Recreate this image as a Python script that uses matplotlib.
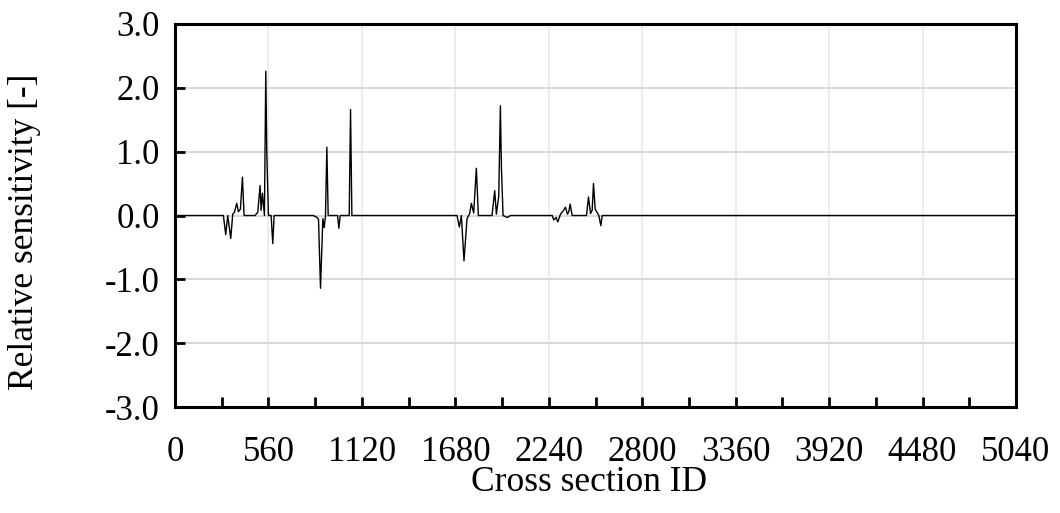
import matplotlib
matplotlib.use("Agg")
import matplotlib.pyplot as plt
from matplotlib.ticker import MultipleLocator

# cross section IDs and relative sensitivity
section_id = [0, 290, 304, 316, 334, 346, 356, 370, 380, 392, 404, 414,
              480, 496, 510, 516, 524, 536, 544, 550, 560, 576, 586, 594,
              830, 850, 860, 872, 886, 894, 902, 910, 918, 974, 982, 990,
              1044, 1052, 1060, 1690, 1704, 1716, 1732, 1750, 1766, 1776,
              1790, 1806, 1818, 1900, 1916, 1926, 1940, 1950, 1956, 1966,
              1990, 2000, 2010, 2260, 2270, 2284, 2294, 2310, 2326, 2340,
              2352, 2360, 2368, 2380, 2466, 2478, 2490, 2500, 2508, 2518,
              2540, 2552, 2560, 5040]
sensitivity = [0.0, 0.0, -0.30, 0.0, -0.36, 0.02, 0.05, 0.19, 0.06, 0.10,
               0.60, 0.0, 0.0, 0.05, 0.47, 0.08, 0.35, 0.0, 2.26, 1.00, 0.0,
               0.0, -0.44, 0.0, 0.0, -0.03, -0.06, -1.14, -0.05, -0.19, 0.0,
               1.07, 0.0, 0.0, -0.20, 0.0, 0.0, 1.66, 0.0, 0.0, -0.18, 0.0,
               -0.71, -0.05, 0.03, 0.19, 0.04, 0.74, 0.0, 0.0, 0.39, 0.02,
               0.30, 1.72, 0.77, 0.0, -0.03, -0.02, 0.0, 0.0, -0.07, -0.03,
               -0.10, 0.02, 0.07, 0.13, 0.02, 0.06, 0.18, 0.0, 0.0, 0.29,
               0.03, 0.08, 0.50, 0.10, 0.0, -0.16, 0.0, 0.0]

plt.rcParams['font.family'] = ['Liberation Serif', 'DejaVu Serif']
plt.rcParams['axes.unicode_minus'] = False

fig = plt.figure(figsize=(10.6, 5.13), dpi=100)
ax = fig.add_axes([175 / 1060, 1 - 407 / 513, 841 / 1060, 383 / 513])

ax.plot(section_id, sensitivity, color='black', linewidth=1.0)

ax.set_xlim(0, 5040)
ax.set_ylim(-3.0, 3.0)
ax.xaxis.set_major_locator(MultipleLocator(560))
ax.xaxis.set_minor_locator(MultipleLocator(280))
ax.yaxis.set_major_locator(MultipleLocator(1.0))
ax.yaxis.set_major_formatter(lambda v, pos: f"{v:.1f}")

ax.grid(True, which='major', axis='y', color='#d9d9d9', linewidth=1.4)
ax.grid(True, which='major', axis='x', color='#ececec', linewidth=1.4)
ax.set_axisbelow(True)

for sp in ax.spines.values():
    sp.set_linewidth(2.2)

ax.tick_params(axis='both', which='both', direction='in', labelsize=25,
               width=2.0, length=7)
ax.tick_params(axis='x', which='both', pad=21)
ax.tick_params(axis='y', which='both', pad=11)
ax.tick_params(axis='x', which='minor', labelbottom=False)

ax.set_xlabel('Cross section ID', fontsize=25.5, labelpad=-2, x=0.4925)
ax.set_ylabel('Relative sensitivity [-]', fontsize=25.5, labelpad=46, y=0.457)

fig.savefig('out.png', dpi=100)
